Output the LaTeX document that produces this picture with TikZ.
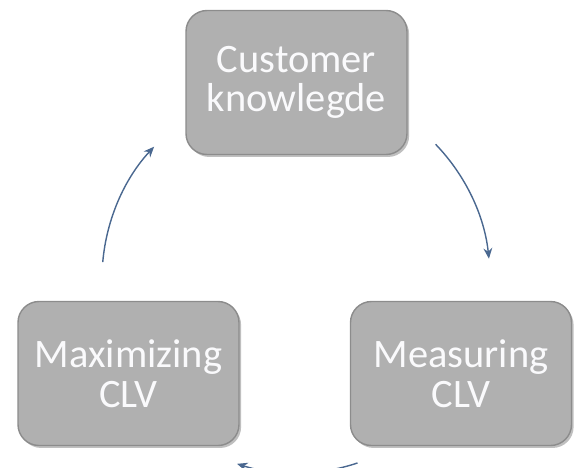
\documentclass[tikz,border=0pt]{standalone}
\usepackage{fontspec}
\setmainfont{Carlito}
\usetikzlibrary{shadows,arrows.meta}
\definecolor{boxgrey}{RGB}{176,176,176}
\definecolor{boxedge}{RGB}{140,140,140}
\definecolor{arrowblue}{RGB}{74,104,144}
\definecolor{textwhite}{RGB}{250,250,252}
\begin{document}
\begin{tikzpicture}[
    box/.style={rectangle, rounded corners=0.42cm, fill=boxgrey, draw=boxedge,
      line width=0.8pt, minimum width=4.42cm, minimum height=2.88cm, align=center,
      text=textwhite, font=\fontsize{23}{22.5}\selectfont,
      drop shadow={shadow xshift=1.2pt, shadow yshift=-1.4pt, opacity=0.5}},
    cycle/.style={draw=arrowblue, line width=0.8pt, -{Stealth[length=6pt,width=5pt]}}
  ]
  \useasboundingbox (0,0) rectangle (11.52,9.34);
  \node[box] (know) at (5.93,7.69) {Customer\\knowlegde};
  \node[box] (max) at (2.57,1.87) {Maximizing\\CLV};
  \node[box] (meas) at (9.22,1.87) {Measuring\\CLV};

  \coordinate (c) at (5.92,3.76);
  \draw[cycle] ([shift={(44:3.88)}]c) arc[start angle=44, end angle=6, radius=3.88];
  \draw[cycle] ([shift={(-71.5:3.88)}]c) arc[start angle=-71.5, end angle=-107.7, radius=3.88];
  \draw[cycle] ([shift={(175:3.88)}]c) arc[start angle=175, end angle=137, radius=3.88];
\end{tikzpicture}
\end{document}
